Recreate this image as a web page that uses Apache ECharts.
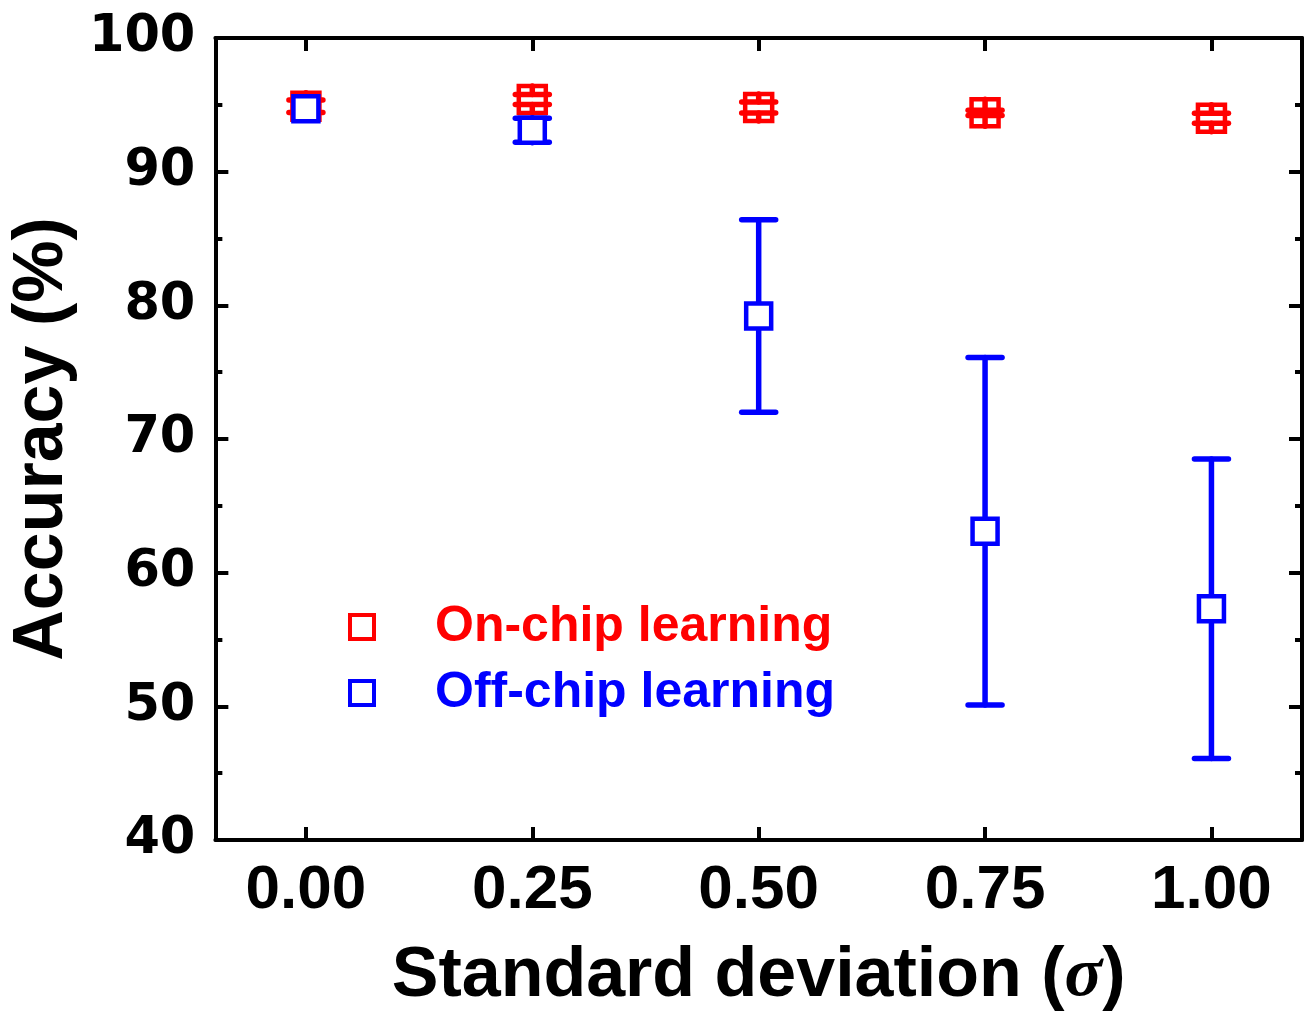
<!DOCTYPE html>
<html>
<head>
<meta charset="utf-8">
<script src="https://cdn.jsdelivr.net/npm/echarts@6/dist/echarts.min.js"></script>
<style>
  html, body { margin: 0; padding: 0; background: #fff; }
  #main { width: 1306px; height: 1017px; }
</style>
</head>
<body>
<div id="main"></div>
<script>
// values
var sigma = [0, 0.25, 0.5, 0.75, 1.0];
var onChip = [94.9, 95.4, 94.8, 94.4, 94.0];
var onChipErr = [0.47, 0.37, 0.41, 0.2, 0.37];
var offChip = [94.7, 93.1, 79.2, 63.1, 57.3];
var offChipErr = [0, 0.9, 7.2, 13.0, 11.2];
var xTicks = [0, 0.25, 0.5, 0.75, 1.0];

var RED = '#ff0000';
var BLUE = '#0000ff';

var chartDom = document.getElementById('main');
var myChart = echarts.init(chartDom);

function pts(ys) {
  return sigma.map(function (x, i) { return [x, ys[i]]; });
}
function errPts(ys, es) {
  return sigma.map(function (x, i) { return [x, ys[i], es[i]]; });
}

// origin style error bar: from marker edge to cap
function errorBar(color, half) {
  return function (params, api) {
    var x = api.value(0), y = api.value(1), e = api.value(2);
    if (!e) return null;
    var c = api.coord([x, y]);
    var hi = api.coord([x, y + e]);
    var lo = api.coord([x, y - e]);
    var cap = 17;
    var st = { stroke: color, lineWidth: 5.5, lineCap: 'round' };
    return {
      type: 'group',
      children: [
        { type: 'line', shape: { x1: c[0], y1: c[1] - half, x2: c[0], y2: hi[1] }, style: st },
        { type: 'line', shape: { x1: c[0], y1: c[1] + half, x2: c[0], y2: lo[1] }, style: st },
        { type: 'line', shape: { x1: c[0] - cap, y1: hi[1], x2: c[0] + cap, y2: hi[1] }, style: st },
        { type: 'line', shape: { x1: c[0] - cap, y1: lo[1], x2: c[0] + cap, y2: lo[1] }, style: st }
      ]
    };
  };
}

var axisLine = { show: true, onZero: false, lineStyle: { color: '#000', width: 4 } };

var option = {
  animation: false,
  backgroundColor: '#fff',
  grid: { left: 215, right: 4, top: 38, bottom: 176, containLabel: false },
  legend: {
    orient: 'vertical',
    left: 343,
    top: 597,
    icon: 'rect',
    itemWidth: 24,
    itemHeight: 24,
    itemGap: 16,
    textStyle: {
      fontFamily: 'Liberation Sans',
      fontWeight: 'bold',
      fontSize: 50,
      padding: [0, 0, 0, 56]
    },
    data: [
      { name: 'On-chip learning', itemStyle: { color: '#fff', borderColor: RED, borderWidth: 4 }, textStyle: { color: RED } },
      { name: 'Off-chip learning', itemStyle: { color: '#fff', borderColor: BLUE, borderWidth: 4 }, textStyle: { color: BLUE } }
    ]
  },
  xAxis: [
    {
      type: 'value',
      min: -0.1,
      max: 1.1,
      name: 'Standard deviation ({i|σ})',
      nameLocation: 'middle',
      nameGap: 102,
      nameTextStyle: {
        fontFamily: 'Liberation Sans',
        fontWeight: 'bold',
        fontSize: 70,
        color: '#000',
        rich: {
          i: { fontFamily: 'Liberation Serif', fontStyle: 'italic', fontSize: 70, color: '#000' }
        }
      },
      axisLine: axisLine,
      axisTick: { show: true, inside: true, length: 13, customValues: xTicks, lineStyle: { width: 4, color: '#000' } },
      axisLabel: {
        customValues: xTicks,
        margin: 20,
        fontFamily: 'Liberation Sans',
        fontWeight: 'bold',
        fontSize: 62,
        color: '#000',
        formatter: function (v) { return v.toFixed(2); }
      },
      splitLine: { show: false }
    },
    {
      type: 'value',
      position: 'top',
      min: -0.1,
      max: 1.1,
      axisLine: axisLine,
      axisTick: { show: true, inside: true, length: 13, customValues: xTicks, lineStyle: { width: 4, color: '#000' } },
      axisLabel: { show: false },
      splitLine: { show: false }
    }
  ],
  yAxis: [
    {
      type: 'value',
      min: 40,
      max: 100,
      interval: 10,
      name: 'Accuracy (%)',
      nameLocation: 'middle',
      nameGap: 132,
      nameTextStyle: {
        fontFamily: 'Liberation Sans',
        fontWeight: 'bold',
        fontSize: 70,
        color: '#000'
      },
      axisLine: axisLine,
      axisTick: { show: true, inside: true, length: 13, lineStyle: { width: 4, color: '#000' } },
      minorTick: { show: true, splitNumber: 2, length: 7, lineStyle: { width: 4, color: '#000' } },
      axisLabel: {
        margin: 20,
        fontFamily: 'DejaVu Sans',
        fontWeight: 'bold',
        fontSize: 51,
        color: '#000'
      },
      splitLine: { show: false }
    },
    {
      type: 'value',
      position: 'right',
      min: 40,
      max: 100,
      interval: 10,
      axisLine: axisLine,
      axisTick: { show: true, inside: true, length: 13, lineStyle: { width: 4, color: '#000' } },
      minorTick: { show: true, splitNumber: 2, length: 7, lineStyle: { width: 4, color: '#000' } },
      axisLabel: { show: false },
      splitLine: { show: false }
    }
  ],
  series: [
    {
      name: 'On-chip learning',
      type: 'scatter',
      symbol: 'rect',
      symbolSize: 27,
      z: 2,
      itemStyle: { color: '#fff', borderColor: RED, borderWidth: 4.5, opacity: 1 },
      data: pts(onChip)
    },
    {
      name: 'On-chip err',
      type: 'custom',
      z: 3,
      renderItem: errorBar(RED, 13.5),
      data: errPts(onChip, onChipErr)
    },
    {
      name: 'Off-chip err',
      type: 'custom',
      z: 4,
      renderItem: errorBar(BLUE, 12.5),
      data: errPts(offChip, offChipErr)
    },
    {
      name: 'Off-chip learning',
      type: 'scatter',
      symbol: 'rect',
      symbolSize: 25,
      z: 5,
      itemStyle: { color: '#fff', borderColor: BLUE, borderWidth: 4.5, opacity: 1 },
      data: pts(offChip)
    }
  ]
};

myChart.setOption(option);
</script>
</body>
</html>
